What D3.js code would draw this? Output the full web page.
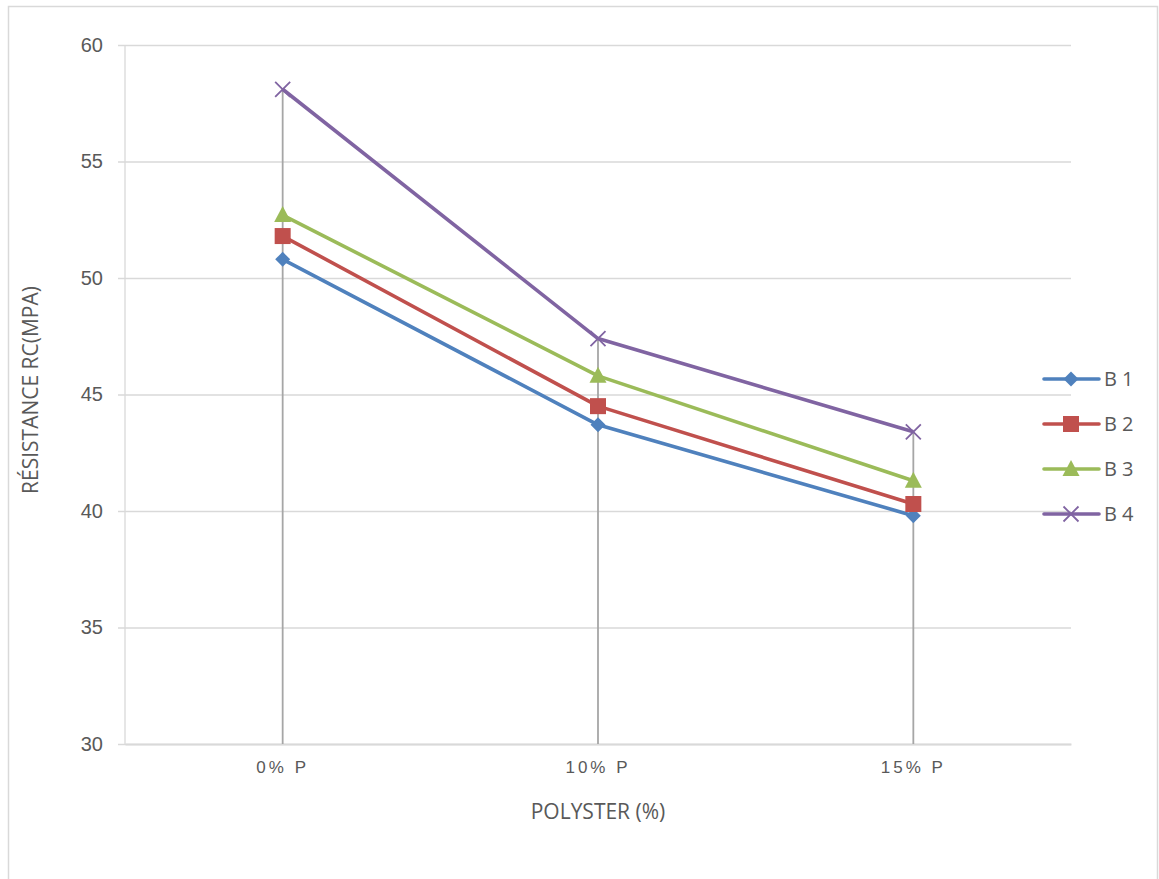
<!DOCTYPE html>
<html>
<head>
<meta charset="utf-8">
<script src="https://cdn.jsdelivr.net/npm/d3@7"></script>
<style>
  body { margin: 0; background: #fff; }
  svg { display: block; font-family: "Open Sans", "Noto Sans", sans-serif; }
</style>
</head>
<body>
<svg id="chart" width="1159" height="879"></svg>
<script>
// data
var categories = ["0% P", "10% P", "15% P"];
var seriesNames = ["B 1", "B 2", "B 3", "B 4"];
var b1 = [50.8, 43.7, 39.8];
var b2 = [51.8, 44.5, 40.3];
var b3 = [52.7, 45.8, 41.3];
var b4 = [58.1, 47.4, 43.4];
var yTicks = [30, 35, 40, 45, 50, 55, 60];

var colors = ["#4F81BD", "#C0504D", "#9BBB59", "#8064A2"];
var shapes = ["diamond", "square", "triangle", "cross"];
var allSeries = [b1, b2, b3, b4];

var svg = d3.select("#chart");
var margin = { left: 125, top: 45, right: 1071, bottom: 744 };

// outer frame
svg.append("rect")
    .attr("x", 8.5).attr("y", 6.5)
    .attr("width", 1149).attr("height", 900)
    .attr("fill", "none").attr("stroke", "#d9d9d9").attr("stroke-width", 1.5);

var x = d3.scaleBand().domain(categories).range([margin.left, margin.right]);
var y = d3.scaleLinear().domain([30, 60]).range([margin.bottom, margin.top]);

// gridlines
var yAxis = d3.axisLeft(y).tickValues(yTicks).tickSize(-(margin.right - margin.left + 7));
var yG = svg.append("g").attr("transform", "translate(" + (margin.left - 7) + ",0)").call(yAxis);
yG.select(".domain").remove();
yG.selectAll(".tick line").attr("stroke", "#d9d9d9").attr("stroke-width", 1.3);
yG.selectAll(".tick text").attr("fill", "#595959").style("font-size", "20px").attr("x", -15);

// y axis line
svg.append("line")
    .attr("x1", margin.left).attr("x2", margin.left)
    .attr("y1", margin.top).attr("y2", margin.bottom)
    .attr("stroke", "#d9d9d9").attr("stroke-width", 1.3);

// x axis
var xAxis = d3.axisBottom(x).tickSize(0).tickPadding(17);
var xG = svg.append("g").attr("transform", "translate(0," + margin.bottom + ")").call(xAxis);
xG.select(".domain").attr("stroke", "#d9d9d9").attr("stroke-width", 2);
xG.selectAll(".tick text").attr("fill", "#595959").style("font-size", "17px").style("letter-spacing", "3px");

// drop lines
var cx = function(i) { return x(categories[i]) + x.bandwidth() / 2; };
categories.forEach(function(c, i) {
    var top = d3.max(allSeries, function(s) { return s[i]; });
    svg.append("line")
        .attr("x1", cx(i)).attr("x2", cx(i))
        .attr("y1", y(top)).attr("y2", margin.bottom)
        .attr("stroke", "#a6a6a6").attr("stroke-width", 1.8);
});

function marker(g, shape, color) {
    if (shape === "diamond") {
        g.append("path").attr("d", "M0,-7.5L7.5,0L0,7.5L-7.5,0Z").attr("fill", color);
    } else if (shape === "square") {
        g.append("rect").attr("x", -8).attr("y", -8).attr("width", 16).attr("height", 16).attr("fill", color);
    } else if (shape === "triangle") {
        g.append("path").attr("d", "M0,-9L8.5,7L-8.5,7Z").attr("fill", color);
    } else {
        g.append("path").attr("d", "M-7.5,-7.5L7.5,7.5M-7.5,7.5L7.5,-7.5")
            .attr("stroke", color).attr("stroke-width", 1.8).attr("fill", "none");
    }
}

var line = d3.line()
    .x(function(d, i) { return cx(i); })
    .y(function(d) { return y(d); });

allSeries.forEach(function(s, k) {
    svg.append("path")
        .datum(s)
        .attr("d", line)
        .attr("fill", "none")
        .attr("stroke", colors[k])
        .attr("stroke-width", 3.6)
        .attr("stroke-linejoin", "round");
    s.forEach(function(v, i) {
        var g = svg.append("g").attr("transform", "translate(" + cx(i) + "," + y(v) + ")");
        marker(g, shapes[k], colors[k]);
    });
});

// legend
seriesNames.forEach(function(name, k) {
    var ly = 379 + k * 45;
    svg.append("line")
        .attr("x1", 1044).attr("x2", 1099)
        .attr("y1", ly).attr("y2", ly)
        .attr("stroke", colors[k]).attr("stroke-width", 3.6).attr("stroke-linecap", "round");
    var g = svg.append("g").attr("transform", "translate(1071," + ly + ")");
    marker(g, shapes[k], colors[k]);
    svg.append("text")
        .attr("x", 1104).attr("y", ly + 7)
        .attr("fill", "#595959").style("font-size", "20px")
        .text(name);
});

// axis titles
svg.append("text")
    .attr("transform", "translate(38,390) rotate(-90)")
    .attr("text-anchor", "middle")
    .attr("fill", "#595959").style("font-size", "21px")
    .text("RÉSISTANCE RC(MPA)");

svg.append("text")
    .attr("x", 598).attr("y", 819)
    .attr("text-anchor", "middle")
    .attr("fill", "#595959").style("font-size", "21px")
    .text("POLYSTER (%)");
</script>
</body>
</html>
